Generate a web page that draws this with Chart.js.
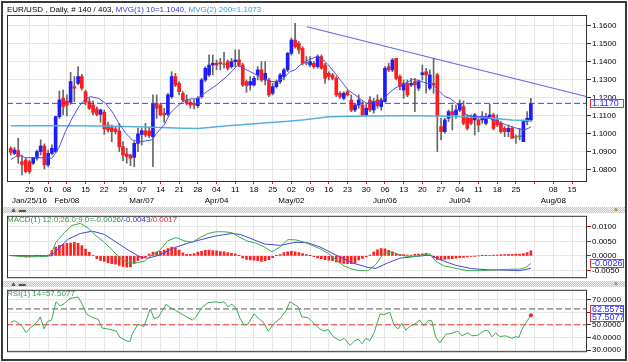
<!DOCTYPE html>
<html>
<head>
<meta charset="utf-8">
<script src="https://cdn.jsdelivr.net/npm/chart.js@4.4.1/dist/chart.umd.min.js"></script>
<style>
  body { margin: 0; background: #fff; width: 628px; height: 362px; overflow: hidden; position: relative;
         font-family: "Liberation Sans", Arial, sans-serif; }
  #frame { position: absolute; left: 1px; top: 1px; width: 622px; height: 356px; border: 2px solid #3a3a3a; }
  canvas { position: absolute; left: 0; }
  .lbl { position: absolute; font-size: 8px; line-height: 10px; white-space: nowrap; }
  .sep { position: absolute; left: 3px; width: 622px; height: 6px;
         background: repeating-conic-gradient(#c6c6c6 0 25%, #f2f2f2 0 50%) 0 0 / 2px 2px; }
  .ico { position: absolute; font-size: 7px; line-height: 7px; color: #555; }
</style>
</head>
<body>
<div id="frame"></div>
<canvas id="main" width="628" height="206" style="top:0;width:628px;height:206px"></canvas>
<div class="sep" style="top:207px"></div>
<div class="ico" style="left:10px;top:206px">&#9650; &#9644;</div>
<div class="ico" style="left:614px;top:206px">&#215;</div>
<canvas id="macd" width="628" height="74" style="top:210px;width:628px;height:74px"></canvas>
<div class="sep" style="top:281px"></div>
<div class="ico" style="left:10px;top:280px">&#9650; &#9644;</div>
<div class="ico" style="left:614px;top:280px">&#215;</div>
<canvas id="rsi" width="628" height="74" style="top:284px;width:628px;height:74px"></canvas>

<div class="lbl" style="left:7px;top:5px">EUR/USD , Daily, # 140 / 403, <span style="color:#3535d8">MVG(1) 10=1.1040,</span> <span style="color:#2f9fd6">MVG(2) 200=1.1073</span></div>
<div class="lbl" style="left:7px;top:215px"><span style="color:#2e9e48">MACD(1) 12.0;26.0;9.0=-0.0026</span><span style="color:#3535d8">/-0.0043</span><span style="color:#ee2222">/0.0017</span></div>
<div class="lbl" style="left:7px;top:289px;color:#2e9e48">RSI(1) 14=57.5077</div>

<script>
// daily bars Jan 18 - Jul 29 2016, [open, high, low, close]
const ohlc = [
  [1.0920,1.0929,1.0883,1.0898],[1.0892,1.0925,1.0885,1.0911],[1.0907,1.0976,1.0837,1.0874],[1.0846,1.0883,1.0772,1.0831],
  [1.0855,1.0865,1.0785,1.0791],[1.0846,1.0855,1.0780,1.0791],[1.0837,1.0870,1.0830,1.0868],[1.0865,1.0911,1.0855,1.0902],
  [1.0902,1.0967,1.0883,1.0933],[1.0933,1.0945,1.0805,1.0828],[1.0828,1.0911,1.0818,1.0892],[1.0892,1.0939,1.0883,1.0920],
  [1.0902,1.1100,1.0895,1.1096],[1.1096,1.1239,1.1087,1.1189],[1.1198,1.1244,1.1106,1.1152],[1.1183,1.1217,1.1100,1.1160],
  [1.1176,1.1343,1.1165,1.1291],[1.1263,1.1319,1.1180,1.1254],[1.1281,1.1374,1.1272,1.1319],[1.1319,1.1331,1.1244,1.1254],
  [1.1235,1.1244,1.1161,1.1176],[1.1180,1.1198,1.1135,1.1143],[1.1161,1.1183,1.1106,1.1120],[1.1139,1.1150,1.1100,1.1109],
  [1.1109,1.1139,1.1065,1.1133],[1.1120,1.1133,1.0998,1.1028],[1.1050,1.1065,1.1010,1.1022],[1.1035,1.1050,1.0957,1.1013],
  [1.1028,1.1040,1.1000,1.1013],[1.1017,1.1059,1.0902,1.0929],[1.0929,1.0957,1.0852,1.0883],[1.0889,1.0920,1.0837,1.0874],
  [1.0883,1.0887,1.0824,1.0865],[1.0870,1.0957,1.0818,1.0948],[1.0948,1.1031,1.0902,1.1000],[1.0998,1.1031,1.0939,1.1018],
  [1.1017,1.1059,1.0985,1.0994],[1.1017,1.1035,1.0980,1.0991],[1.0985,1.1217,1.0818,1.1170],[1.1170,1.1217,1.1087,1.1143],
  [1.1161,1.1170,1.1100,1.1106],[1.1115,1.1143,1.1065,1.1106],[1.1109,1.1226,1.1100,1.1217],[1.1207,1.1346,1.1198,1.1319],
  [1.1319,1.1337,1.1263,1.1272],[1.1281,1.1291,1.1217,1.1235],[1.1226,1.1235,1.1180,1.1189],[1.1189,1.1217,1.1161,1.1170],
  [1.1176,1.1189,1.1143,1.1161],[1.1170,1.1189,1.1139,1.1161],[1.1157,1.1207,1.1146,1.1198],[1.1207,1.1309,1.1198,1.1300],
  [1.1300,1.1374,1.1291,1.1365],[1.1328,1.1439,1.1319,1.1383],[1.1383,1.1439,1.1328,1.1393],[1.1393,1.1411,1.1356,1.1383],
  [1.1397,1.1420,1.1356,1.1390],[1.1390,1.1454,1.1365,1.1385],[1.1402,1.1411,1.1356,1.1365],[1.1374,1.1420,1.1365,1.1402],
  [1.1402,1.1467,1.1374,1.1411],[1.1411,1.1467,1.1374,1.1383],[1.1383,1.1393,1.1263,1.1272],[1.1291,1.1300,1.1231,1.1269],
  [1.1272,1.1319,1.1244,1.1291],[1.1272,1.1320,1.1265,1.1309],[1.1328,1.1374,1.1300,1.1356],[1.1356,1.1402,1.1291,1.1300],
  [1.1300,1.1402,1.1272,1.1337],[1.1300,1.1309,1.1207,1.1217],[1.1226,1.1281,1.1217,1.1263],[1.1263,1.1300,1.1255,1.1291],
  [1.1291,1.1337,1.1281,1.1328],[1.1319,1.1365,1.1300,1.1356],[1.1356,1.1454,1.1346,1.1448],[1.1448,1.1532,1.1439,1.1522],
  [1.1522,1.1615,1.1476,1.1485],[1.1504,1.1513,1.1448,1.1467],[1.1476,1.1485,1.1383,1.1393],[1.1393,1.1430,1.1383,1.1395],
  [1.1383,1.1430,1.1374,1.1402],[1.1393,1.1402,1.1365,1.1374],[1.1374,1.1440,1.1365,1.1430],[1.1430,1.1439,1.1360,1.1365],
  [1.1383,1.1393,1.1281,1.1309],[1.1337,1.1346,1.1300,1.1319],[1.1328,1.1337,1.1300,1.1309],[1.1309,1.1319,1.1207,1.1217],
  [1.1226,1.1235,1.1198,1.1207],[1.1198,1.1235,1.1189,1.1226],[1.1235,1.1244,1.1210,1.1217],[1.1189,1.1217,1.1124,1.1133],
  [1.1133,1.1170,1.1124,1.1161],[1.1161,1.1217,1.1143,1.1189],[1.1161,1.1180,1.1102,1.1106],[1.1106,1.1170,1.1096,1.1143],
  [1.1189,1.1207,1.1124,1.1133],[1.1133,1.1198,1.1115,1.1180],[1.1189,1.1217,1.1143,1.1157],[1.1152,1.1198,1.1133,1.1189],
  [1.1180,1.1374,1.1176,1.1365],[1.1374,1.1393,1.1346,1.1356],[1.1356,1.1420,1.1346,1.1411],[1.1420,1.1420,1.1300,1.1309],
  [1.1319,1.1328,1.1244,1.1263],[1.1244,1.1300,1.1198,1.1281],[1.1281,1.1300,1.1207,1.1217],[1.1272,1.1309,1.1263,1.1281],
  [1.1291,1.1309,1.1124,1.1272],[1.1254,1.1300,1.1240,1.1291],[1.1330,1.1383,1.1300,1.1340],[1.1346,1.1365,1.1226,1.1328],
  [1.1254,1.1356,1.1244,1.1328],[1.1281,1.1420,1.1226,1.1272],[1.1328,1.1337,1.0902,1.1096],[1.1041,1.1087,1.0967,1.1013],
  [1.1013,1.1087,1.1004,1.1078],[1.1087,1.1133,1.1069,1.1124],[1.1124,1.1161,1.1022,1.1106],[1.1106,1.1161,1.1087,1.1133],
  [1.1133,1.1189,1.1124,1.1170],[1.1152,1.1183,1.1050,1.1059],[1.1096,1.1106,1.1022,1.1031],[1.1087,1.1106,1.1050,1.1059],
  [1.1078,1.1115,1.0994,1.1106],[1.1078,1.1096,1.1013,1.1050],[1.1078,1.1124,1.1059,1.1096],[1.1059,1.1115,1.1050,1.1096],
  [1.1096,1.1165,1.1087,1.1106],[1.1106,1.1115,1.1022,1.1031],[1.1078,1.1106,1.1041,1.1050],[1.1059,1.1069,1.1004,1.1013],
  [1.1031,1.1041,1.0985,1.1013],[1.1013,1.1050,1.0985,1.1031],[1.1031,1.1041,1.0976,1.0976],[1.0985,1.0994,1.0948,1.0980],
  [1.0990,1.1031,1.0967,1.0985],[1.0957,1.1078,1.0957,1.1069],[1.1069,1.1124,1.1050,1.1087],[1.1078,1.1198,1.1069,1.1170]
];

// [bar index, value]
const ma10 = [
  [0,1.0857],[2,1.0883],[4,1.0868],[10,1.0868],[11,1.0865],[12.8,1.0920],[14.6,1.1013],[16.4,1.1087],[18.2,1.1152],
  [20,1.1198],[21.3,1.1207],[23.5,1.1198],[25.3,1.1170],[27.1,1.1124],[28.9,1.1059],[30.7,1.1004],[32.5,1.0967],
  [34.2,1.0957],[36,1.0961],[37.8,1.0967],[39,1.1004],[41,1.1050],[42.6,1.1115],[44.4,1.1152],[46,1.1180],[48,1.1195],
  [49.7,1.1195],[50.6,1.1207],[52.4,1.1235],[55,1.1272],[57.7,1.1319],[59.5,1.1356],[60.6,1.1383],[62.2,1.1365],
  [64,1.1346],[65.7,1.1328],[67.5,1.1309],[69.3,1.1291],[71,1.1291],[72.9,1.1309],[74.6,1.1346],[76,1.1356],
  [77.3,1.1383],[79.5,1.1411],[81.8,1.1430],[83.1,1.1420],[84.9,1.1383],[86.7,1.1337],[88.4,1.1291],[90.2,1.1244],
  [92,1.1217],[93.8,1.1189],[95.1,1.1170],[96.9,1.1180],[98.2,1.1176],[99.6,1.1189],[101,1.1226],[102.7,1.1254],
  [104.5,1.1272],[106.3,1.1291],[107.6,1.1304],[109.4,1.1295],[111.1,1.1281],[112.5,1.1281],[113.8,1.1254],
  [115.1,1.1226],[116.1,1.1207],[117.4,1.1198],[119.1,1.1170],[120.5,1.1143],[121.8,1.1106],[123.6,1.1096],
  [125.4,1.1096],[127.1,1.1096],[128.8,1.1078],[130.7,1.1065],[132.5,1.1050],[134.3,1.1037],[137.1,1.1022],
  [138.3,1.1031],[139,1.1040]
];
const ma200 = [
  [0,1.1046],[12,1.1046],[24,1.1044],[36,1.1038],[46,1.1032],[50,1.1030],[58,1.1045],[66,1.1058],[74,1.1070],
  [78,1.1078],[85,1.1096],[95,1.1100],[105,1.1101],[114,1.1100],[122,1.1096],[128,1.1088],[134,1.1078],[139,1.1073]
];
const trendLine = [[79.1,1.1596],[154,1.1207]];
const lastClose = 1.1170;

const macdLine = [
  [0,0.0001],[4,-0.0004],[6,-0.0003],[9.8,-0.0002],[11,0.0012],[12.1,0.0047],[14.3,0.0080],[16.4,0.0105],
  [18.6,0.0112],[20.7,0.0096],[22.8,0.0069],[25,0.0047],[27.1,0.0020],[29.2,-0.0008],[31.4,-0.0024],[33.5,-0.0024],
  [35.6,-0.0019],[37.8,0.0003],[39.9,0.0020],[42,0.0052],[44.2,0.0063],[46.3,0.0052],[48.5,0.0047],[50.6,0.0063],
  [52.7,0.0077],[54.9,0.0083],[57,0.0083],[59.1,0.0080],[61.3,0.0063],[63.4,0.0050],[65.5,0.0044],[67.7,0.0031],
  [69.8,0.0014],[72,0.0031],[74.1,0.0056],[76.2,0.0055],[78.4,0.0047],[80.5,0.0036],[82.6,0.0025],[84.8,0.0009],
  [86.9,-0.0013],[89.1,-0.0035],[91.2,-0.0046],[93.3,-0.0051],[95.5,-0.0051],[97.6,-0.0029],[99.7,0.0009],
  [101.9,0.0014],[104,0.0003],[106.1,-0.0002],[108.3,-0.0002],[110.4,0.0003],[112,0.0007],[113.6,-0.0019],
  [115.8,-0.0035],[117.9,-0.0040],[120,-0.0046],[122.2,-0.0051],[125.4,-0.0051],[128.6,-0.0049],[131.8,-0.0047],
  [133.9,-0.0046],[136,-0.0046],[137.6,-0.0040],[139,-0.0026]
];
const signalLine = [
  [0,0.0001],[10.9,0.0000],[13.2,0.0031],[15.4,0.0058],[18.6,0.0077],[21.8,0.0085],[25,0.0074],[28.2,0.0047],
  [31.4,0.0020],[34.6,-0.0004],[36.7,-0.0008],[39.9,0.0003],[43.1,0.0025],[47.4,0.0044],[50.6,0.0055],[54.9,0.0069],
  [59.1,0.0077],[61.3,0.0074],[64.5,0.0058],[67.7,0.0041],[72,0.0036],[76.2,0.0047],[79.4,0.0045],[82.6,0.0031],
  [86.9,0.0003],[91.2,-0.0024],[95.5,-0.0040],[97.6,-0.0043],[100.8,-0.0024],[104,-0.0008],[108.3,-0.0002],
  [112,0.0003],[114.7,-0.0013],[119,-0.0033],[123.2,-0.0044],[127.5,-0.0048],[131.8,-0.0049],[136,-0.0051],[139,-0.0043]
];
const histogram = [
  0.0001,0.0001,0.0000,-0.0002,-0.0003,-0.0003,-0.0002,0.0001,0.0002,0.0002,
  0.0003,0.0018,0.0030,0.0036,0.0040,0.0043,0.0044,0.0047,0.0043,0.0035,
  0.0023,0.0012,0.0002,-0.0010,-0.0016,-0.0019,-0.0024,-0.0027,-0.0029,-0.0033,
  -0.0036,-0.0039,-0.0038,-0.0026,-0.0016,-0.0009,-0.0004,0.0006,0.0013,0.0014,
  0.0016,0.0020,0.0025,0.0030,0.0026,0.0020,0.0010,0.0005,0.0005,0.0008,
  0.0013,0.0016,0.0019,0.0020,0.0018,0.0017,0.0015,0.0014,0.0011,0.0009,
  0.0007,0.0001,-0.0007,-0.0012,-0.0014,-0.0015,-0.0017,-0.0019,-0.0017,-0.0013,
  -0.0006,0.0001,0.0004,0.0011,0.0014,0.0016,0.0014,0.0011,0.0008,0.0004,
  0.0001,-0.0003,-0.0007,-0.0010,-0.0013,-0.0015,-0.0017,-0.0021,-0.0024,-0.0026,
  -0.0027,-0.0027,-0.0024,-0.0014,-0.0009,-0.0004,0.0003,0.0013,0.0021,0.0025,
  0.0024,0.0019,0.0013,0.0008,0.0005,0.0004,0.0003,0.0003,0.0005,0.0006,
  0.0007,0.0009,0.0002,-0.0006,-0.0012,-0.0013,-0.0012,-0.0011,-0.0010,-0.0008,
  -0.0006,-0.0005,-0.0004,-0.0002,-0.0001,0.0000,0.0001,0.0001,0.0002,0.0003,
  0.0003,0.0004,0.0004,0.0005,0.0005,0.0006,0.0006,0.0008,0.0011,0.0017
];
const macdLast = -0.0026;

const rsi = [
  [0,51.75],[1,53.25],[2,51.25],[3.1,48.75],[4.1,43.75],[5.2,47.5],[6.3,50],[7.3,53.25],[7.9,56.25],[8.9,46.75],
  [9.8,52.5],[10.9,53.75],[12.1,68.25],[13.2,65],[14.3,66.75],[15.4,70],[16.4,71.25],[18,72],[19.1,66.25],
  [20.2,58.75],[21.8,55.75],[23.4,54.25],[24.4,47.5],[26.6,46.25],[28.2,45],[29.2,40],[30.8,37.5],[31.9,36.75],
  [32.4,42.5],[34,50.5],[35.6,48.75],[37.3,62.5],[38.3,55],[39.4,55.75],[40.5,61.25],[41.5,66.25],[42.6,63.75],
  [44.2,61.25],[46.3,57.5],[48.5,53.75],[49.5,56.25],[51.1,63.75],[52.7,67.5],[54.9,68.25],[55.9,67.5],[57,68.25],
  [58.1,64.25],[59.1,66.25],[60.2,63.25],[61.3,55],[62.3,50],[63.4,50.5],[65,58.75],[66.1,55.5],[67.7,51.25],
  [68.8,45],[70.4,51.25],[72,55],[73.6,61.25],[74.6,68.25],[75.7,66.25],[76.8,64.25],[77.8,56.25],[79.4,55.75],
  [80.5,52.5],[82.6,46.75],[83.7,45],[84.8,46.25],[86.4,40],[88,37.5],[89.1,39.25],[90.7,33.75],[91.7,36.75],
  [92.8,38.75],[93.9,35],[94.9,39.25],[96,37.5],[97.1,43.75],[98.7,58.75],[99.7,58],[101.3,60],[102.4,50],
  [103.5,46.75],[104.5,51.25],[105.6,45.75],[106.7,48.75],[108.3,51.25],[109.3,53.75],[110.4,49.25],[111.5,53.25],
  [112.5,53.25],[113.6,40],[114.7,35.75],[116.3,42.5],[117.9,43.25],[119.5,45],[120.6,41.25],[122.2,43.75],
  [123.2,41.25],[124.8,41.75],[126.4,45],[127.5,45.75],[128.6,40.5],[129.6,43.75],[130.7,40.75],[132.3,41.25],
  [133.9,39.25],[135,40.5],[135.8,40],[136.6,46.25],[137.6,51.25],[139,57.5077]
];
const rsiUpper = 62.5575;
const rsiMid = 50;

// x axis: Mondays (bar index), day number, month caption
const tickIdx = [5,10,15,20,25,30,35,40,45,50,55,60,65,70,75,80,85,90,95,100,105,110,115,120,125,130,135,140,145,150];
const dayLbl = ['25','01','08','15','22','29','07','14','21','28','04','11','18','25','02','09','16','23','30','06','13','20','27','04','11','18','25','','08','15'];
const monthLbl = ['Jan/25/16','','Feb/08','','','','Mar/07','','','','Apr/04','','','','May/02','','','','','Jun/06','','','','Jul/04','','','','','Aug/08',''];
const priceTicks = [1.08,1.09,1.10,1.11,1.12,1.13,1.14,1.15,1.16];
const macdTicks = [-0.005,0,0.005,0.01];
const rsiTicks = [30,40,50,60,70];

Chart.defaults.font.family = '"Liberation Sans", Arial, sans-serif';
Chart.defaults.font.size = 8;
Chart.defaults.color = '#000';

const pts = arr => arr.map(p => ({x: p[0], y: p[1]}));
const XMIN = -1, XMAX = 154;

// panel border + value boxes on the right axis
const deco = {
  id: 'deco',
  afterDraw(chart, args, opts) {
    const {ctx, chartArea: a} = chart;
    ctx.save();
    ctx.strokeStyle = '#333';
    ctx.lineWidth = 1;
    ctx.strokeRect(a.left + 0.5, a.top + 0.5, a.right - a.left - 1, a.bottom - a.top - 1);
    ctx.font = '9px "Liberation Sans", Arial, sans-serif';
    ctx.textBaseline = 'middle';
    let prev = -100;
    (opts.boxes || []).forEach(b => {
      let py = Math.round(chart.scales.y.getPixelForValue(b.v));
      if (py - prev < 8) py = prev + 8;
      prev = py;
      ctx.fillStyle = '#fff';
      ctx.fillRect(a.right + 3, py - 4, 34, 9);
      ctx.strokeStyle = '#f03030';
      ctx.strokeRect(a.right + 3.5, py - 3.5, 33, 8);
      ctx.fillStyle = '#2a2aff';
      ctx.fillText(b.t, a.right + 5, py + 1);
    });
    ctx.restore();
  }
};

function xScale(showLabels) {
  return {
    type: 'linear', min: XMIN, max: XMAX, offset: false,
    afterBuildTicks: s => { s.ticks = tickIdx.map(v => ({value: v})); },
    afterFit: s => { s.height = showLabels ? 24 : 0; },
    grid: { color: '#e6e6e6', offset: false, drawTicks: showLabels, tickLength: 2, tickColor: '#e01010' },
    border: { display: false },
    ticks: {
      display: showLabels, autoSkip: false, maxRotation: 0, padding: 1,
      font: { size: 8, lineHeight: 1.3 },
      callback: v => { const k = tickIdx.indexOf(v); return k < 0 ? '' : [dayLbl[k], monthLbl[k]]; }
    }
  };
}

function yScale(min, max, list, digits, tickColor) {
  return {
    type: 'linear', position: 'right', min, max,
    afterBuildTicks: s => { s.ticks = list.map(v => ({value: v})); },
    afterFit: s => { s.width = 41; },
    grid: { color: '#e6e6e6', tickLength: 4, tickColor },
    border: { display: false },
    ticks: { padding: 1, callback: v => v.toFixed(digits) }
  };
}

const base = {
  responsive: false, animation: false, devicePixelRatio: 1, events: [],
  plugins: { legend: { display: false }, tooltip: { enabled: false } }
};

// main price panel
const idx = ohlc.map((_, i) => i);
new Chart(document.getElementById('main'), {
  type: 'bar',
  data: {
    datasets: [
      { type: 'line', data: pts(trendLine), borderColor: '#5a5ae8', borderWidth: 1, pointRadius: 0, order: 0 },
      { type: 'line', data: [{x: XMIN, y: lastClose}, {x: XMAX, y: lastClose}], borderColor: '#3a3aff',
        borderWidth: 1, borderDash: [6, 3], pointRadius: 0, order: 0 },
      { type: 'line', data: pts(ma10), borderColor: '#5050e0', borderWidth: 1, pointRadius: 0, order: 0 },
      { type: 'line', data: pts(ma200), borderColor: '#55b0e0', borderWidth: 1.5, pointRadius: 0, order: 0 },
      { data: idx.map(i => ({x: i, y: [ohlc[i][0], ohlc[i][3]]})), grouped: false, barThickness: 3, minBarLength: 1,
        backgroundColor: idx.map(i => Math.abs(ohlc[i][3] - ohlc[i][0]) < 0.0005 ? '#777'
          : (ohlc[i][3] > ohlc[i][0] ? '#1c1cff' : '#ff1c1c')), order: 1 },
      { data: idx.map(i => ({x: i, y: [ohlc[i][2], ohlc[i][1]]})), grouped: false, barThickness: 1,
        backgroundColor: '#666', order: 2 }
    ]
  },
  options: Object.assign({}, base, {
    layout: { padding: { left: 7, top: 15, right: 0, bottom: 0 } },
    scales: { x: xScale(true), y: yScale(1.0733, 1.1661, priceTicks, 4, '#333') },
    plugins: Object.assign({}, base.plugins, { deco: { boxes: [{ v: lastClose, t: lastClose.toFixed(4) }] } })
  }),
  plugins: [deco]
});

// MACD panel
new Chart(document.getElementById('macd'), {
  type: 'bar',
  data: {
    datasets: [
      { type: 'line', data: pts(macdLine), borderColor: '#3aaa52', borderWidth: 1, pointRadius: 0, order: 0 },
      { type: 'line', data: pts(signalLine), borderColor: '#4444e0', borderWidth: 1, pointRadius: 0, order: 0 },
      { data: histogram.map((v, i) => ({x: i, y: v})), barThickness: 2, backgroundColor: '#ff2020', order: 1 }
    ]
  },
  options: Object.assign({}, base, {
    layout: { padding: { left: 7, top: 4, right: 0, bottom: 4 } },
    scales: { x: xScale(false), y: yScale(-0.0077, 0.0138, macdTicks, 4, '#e01010') },
    plugins: Object.assign({}, base.plugins, { deco: { boxes: [{ v: macdLast, t: macdLast.toFixed(4) }] } })
  }),
  plugins: [deco]
});

// RSI panel
new Chart(document.getElementById('rsi'), {
  type: 'line',
  data: {
    datasets: [
      { data: pts(rsi), borderColor: '#3aaa52', borderWidth: 1, tension: 0,
        pointRadius: rsi.map((p, i) => i === rsi.length - 1 ? 2 : 0),
        pointBackgroundColor: '#ff2020', pointBorderWidth: 0 },
      { data: [{x: XMIN, y: rsiUpper}, {x: XMAX, y: rsiUpper}], borderColor: '#555', borderWidth: 1,
        borderDash: [6, 3], pointRadius: 0 },
      { data: [{x: XMIN, y: rsiMid}, {x: XMAX, y: rsiMid}], borderColor: '#f03030', borderWidth: 1,
        borderDash: [6, 3], pointRadius: 0 }
    ]
  },
  options: Object.assign({}, base, {
    layout: { padding: { left: 7, top: 4, right: 0, bottom: 4 } },
    scales: { x: xScale(false), y: yScale(28.3, 77.7, rsiTicks, 4, '#333') },
    plugins: Object.assign({}, base.plugins, { deco: { boxes: [
      { v: rsiUpper, t: rsiUpper.toFixed(4) },
      { v: rsi[rsi.length - 1][1], t: rsi[rsi.length - 1][1].toFixed(4) }
    ] } })
  }),
  plugins: [deco]
});
</script>
</body>
</html>
